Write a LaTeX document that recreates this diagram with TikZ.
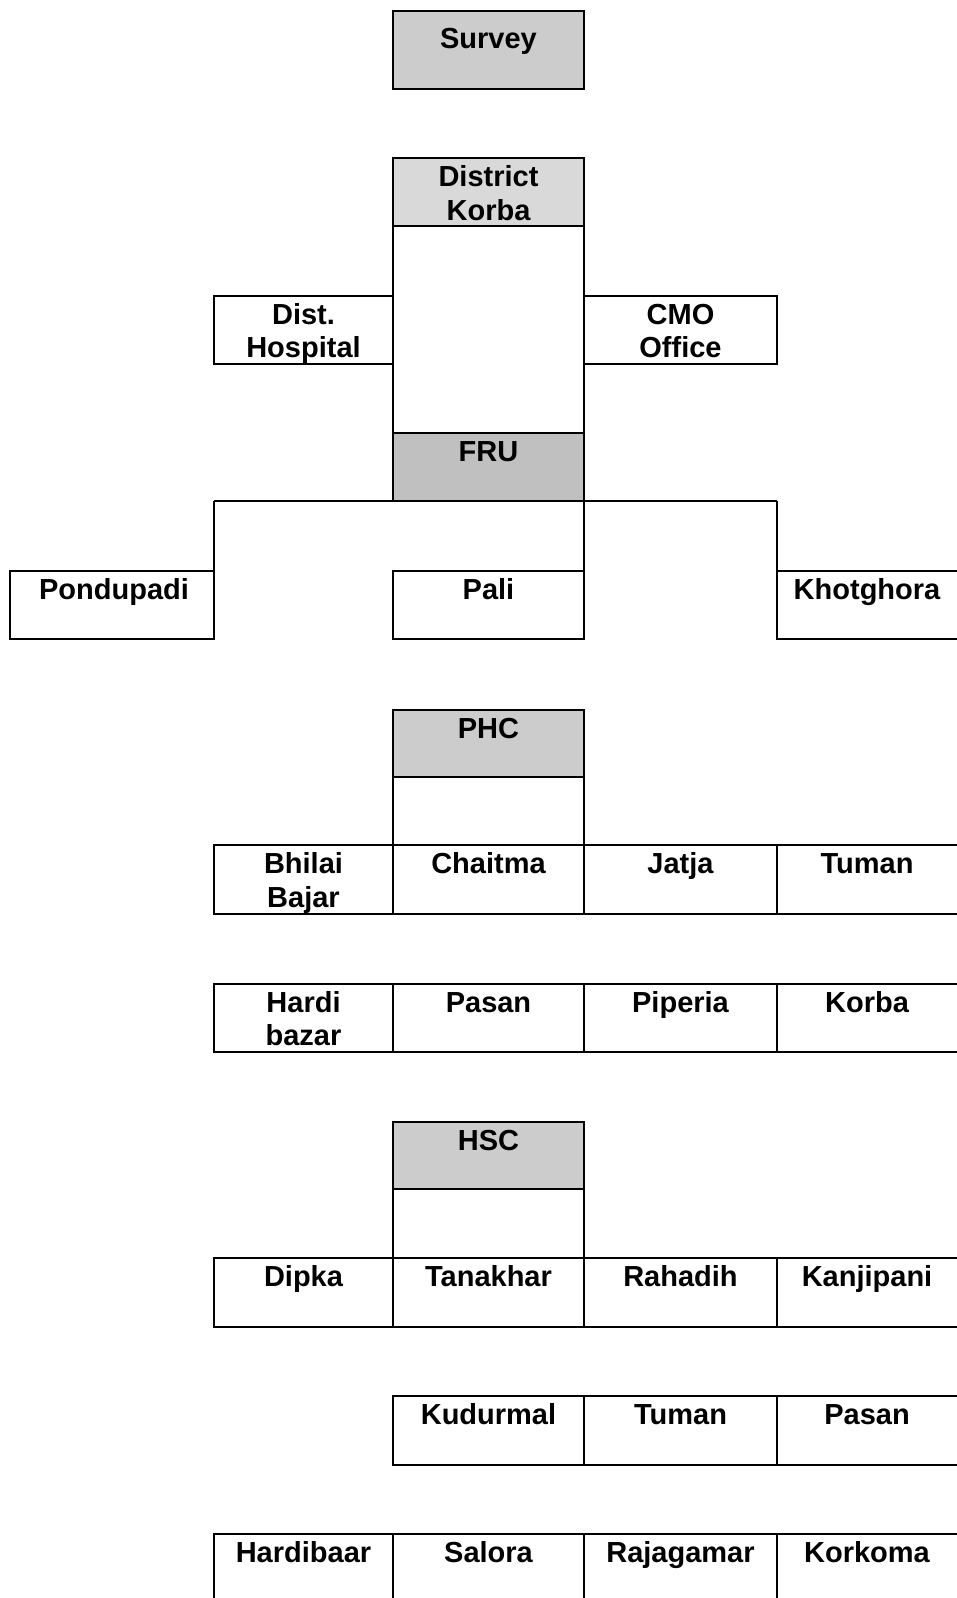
\documentclass[tikz,border=0pt]{standalone}
\usepackage{fontspec}
\setmainfont{Liberation Sans}
\usetikzlibrary{calc}
\definecolor{greyA}{RGB}{204,204,204}
\definecolor{greyB}{RGB}{217,217,217}
\definecolor{greyC}{RGB}{192,192,192}
\begin{document}
\begin{tikzpicture}[x=1pt,y=-1pt,
  cell/.style={draw, line width=2pt, anchor=north west, minimum height=68.3pt, inner sep=0pt, outer sep=0pt},
  lbl/.style={font=\bfseries\fontsize{29}{33.6}\selectfont, anchor=base, align=center, text width=175pt, inner sep=0pt},
  link/.style={line width=2pt}]
\useasboundingbox (0,0) rectangle (957,1598);
\clip (0,0) rectangle (957,1598);
% top
\node[cell, fill=greyA, minimum width=191pt, minimum height=78.3pt] (survey) at (393,11) {};
\node[lbl] (t-survey) at ($(survey.north)+(0,37)$) {Survey};
% district column
\node[cell, minimum width=179pt] (hosp) at (214,295.6) {};
\node[cell, minimum width=193pt] (cmo) at (584,295.6) {};
\node[cell, fill=greyB, minimum width=191pt] (dk) at (393,158) {};
\node[cell, minimum width=191pt, minimum height=206.9pt] (dkmid) at (393,226.3) {};
\node[cell, fill=greyC, minimum width=191pt] (fru) at (393,433.1) {};
\node[lbl] (t-dk) at ($(dk.north)+(0,28.5)$) {District\\Korba};
\node[lbl] (t-hosp) at ($(hosp.north)+(0,28.5)$) {Dist.\\Hospital};
\node[lbl] (t-cmo) at ($(cmo.north)+(0,28.5)$) {CMO\\Office};
\node[lbl] (t-fru) at ($(fru.north)+(0,28.5)$) {FRU};
% FRU children
\node[cell, minimum width=204pt] (pond) at (10,570.8) {};
\node[cell, minimum width=191pt] (pali) at (393,570.8) {};
\node[cell, minimum width=188pt] (khot) at (777,570.8) {};
\node[lbl] (t-pond) at ($(pond.north)+(2,28.5)$) {Pondupadi};
\node[lbl] (t-pali) at ($(pali.north)+(0,28.5)$) {Pali};
\node[lbl] (t-khot) at ($(khot.north)+(-4,28.5)$) {Khotghora};
\draw[link] (pond.north east |- fru.south) -- (khot.north west |- fru.south);
\draw[link] (pond.north east |- fru.south) -- (pond.north east);
\draw[link] (fru.south east) -- (pali.north east);
\draw[link] (khot.north west |- fru.south) -- (khot.north west);
% PHC
\node[cell, fill=greyA, minimum width=191pt, minimum height=66.2pt] (phc) at (393,710.4) {};
\node[cell, minimum width=191pt, minimum height=68.4pt] (phcmid) at (393,776.6) {};
\node[lbl] (t-phc) at ($(phc.north)+(0,28.5)$) {PHC};
% row 1
\node[cell, minimum width=179pt, minimum height=69pt] (a1) at (214,845) {};
\node[cell, minimum width=191pt, minimum height=69pt] (b1) at (393,845) {};
\node[cell, minimum width=193pt, minimum height=69pt] (c1) at (584,845) {};
\node[cell, minimum width=188pt, minimum height=69pt] (d1) at (777,845) {};
\node[lbl] (t-a1) at ($(a1.north)+(0,28.5)$) {Bhilai\\Bajar};
\node[lbl] (t-b1) at ($(b1.north)+(0,28.5)$) {Chaitma};
\node[lbl] (t-c1) at ($(c1.north)+(0,28.5)$) {Jatja};
\node[lbl] (t-d1) at ($(d1.north)+(-4,28.5)$) {Tuman};
% row 2
\node[cell, minimum width=179pt] (a2) at (214,983.5) {};
\node[cell, minimum width=191pt] (b2) at (393,983.5) {};
\node[cell, minimum width=193pt] (c2) at (584,983.5) {};
\node[cell, minimum width=188pt] (d2) at (777,983.5) {};
\node[lbl] (t-a2) at ($(a2.north)+(0,28.5)$) {Hardi\\bazar};
\node[lbl] (t-b2) at ($(b2.north)+(0,28.5)$) {Pasan};
\node[lbl] (t-c2) at ($(c2.north)+(0,28.5)$) {Piperia};
\node[lbl] (t-d2) at ($(d2.north)+(-4,28.5)$) {Korba};
% HSC
\node[cell, fill=greyA, minimum width=191pt, minimum height=67.4pt] (hsc) at (393,1122) {};
\node[cell, minimum width=191pt] (hscmid) at (393,1189.4) {};
\node[lbl] (t-hsc) at ($(hsc.north)+(0,28.5)$) {HSC};
% row 3
\node[cell, minimum width=179pt, minimum height=69.3pt] (a3) at (214,1257.7) {};
\node[cell, minimum width=191pt, minimum height=69.3pt] (b3) at (393,1257.7) {};
\node[cell, minimum width=193pt, minimum height=69.3pt] (c3) at (584,1257.7) {};
\node[cell, minimum width=188pt, minimum height=69.3pt] (d3) at (777,1257.7) {};
\node[lbl] (t-a3) at ($(a3.north)+(0,28.5)$) {Dipka};
\node[lbl] (t-b3) at ($(b3.north)+(0,28.5)$) {Tanakhar};
\node[lbl] (t-c3) at ($(c3.north)+(0,28.5)$) {Rahadih};
\node[lbl] (t-d3) at ($(d3.north)+(-4,28.5)$) {Kanjipani};
% row 4
\node[cell, minimum width=191pt, minimum height=68.6pt] (b4) at (393,1396) {};
\node[cell, minimum width=193pt, minimum height=68.6pt] (c4) at (584,1396) {};
\node[cell, minimum width=188pt, minimum height=68.6pt] (d4) at (777,1396) {};
\node[lbl] (t-b4) at ($(b4.north)+(0,28.5)$) {Kudurmal};
\node[lbl] (t-c4) at ($(c4.north)+(0,28.5)$) {Tuman};
\node[lbl] (t-d4) at ($(d4.north)+(-4,28.5)$) {Pasan};
% row 5
\node[cell, minimum width=179pt, minimum height=72pt] (a5) at (214,1534) {};
\node[cell, minimum width=191pt, minimum height=72pt] (b5) at (393,1534) {};
\node[cell, minimum width=193pt, minimum height=72pt] (c5) at (584,1534) {};
\node[cell, minimum width=188pt, minimum height=72pt] (d5) at (777,1534) {};
\node[lbl] (t-a5) at ($(a5.north)+(0,28.5)$) {Hardibaar};
\node[lbl] (t-b5) at ($(b5.north)+(0,28.5)$) {Salora};
\node[lbl] (t-c5) at ($(c5.north)+(0,28.5)$) {Rajagamar};
\node[lbl] (t-d5) at ($(d5.north)+(-4,28.5)$) {Korkoma};
\end{tikzpicture}
\end{document}
